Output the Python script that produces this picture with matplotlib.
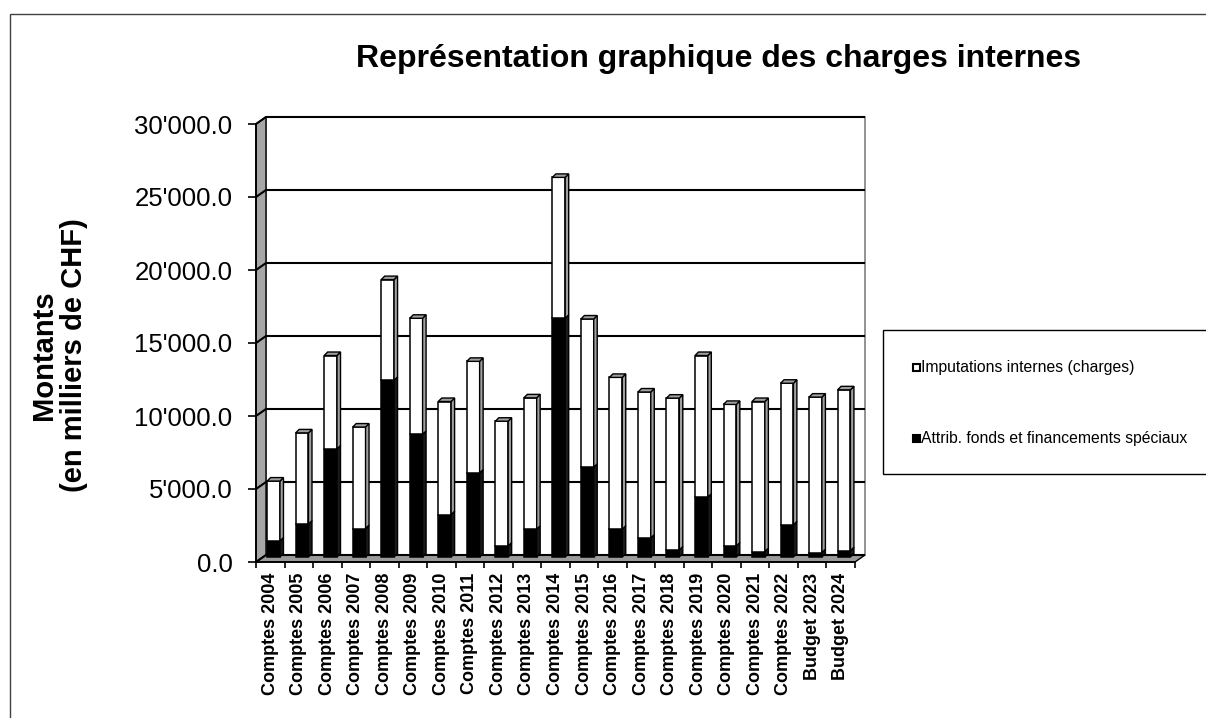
import matplotlib
matplotlib.use("Agg")
import matplotlib.pyplot as plt
import matplotlib.patches as mpatches
from matplotlib.ticker import FuncFormatter
import numpy as np

plt.rcParams['font.family'] = ['Liberation Sans', 'DejaVu Sans']

# valeurs (en milliers de CHF)
categories = ['Comptes 2004', 'Comptes 2005', 'Comptes 2006', 'Comptes 2007', 'Comptes 2008',
              'Comptes 2009', 'Comptes 2010', 'Comptes 2011', 'Comptes 2012', 'Comptes 2013',
              'Comptes 2014', 'Comptes 2015', 'Comptes 2016', 'Comptes 2017', 'Comptes 2018',
              'Comptes 2019', 'Comptes 2020', 'Comptes 2021', 'Comptes 2022', 'Budget 2023',
              'Budget 2024']
attrib = [1100, 2250, 7400, 1950, 12100, 8400, 2900, 5750, 750, 1900,
          16350, 6150, 1900, 1300, 480, 4100, 750, 370, 2200, 300, 430]
imputations = [4100, 6250, 6400, 6950, 6900, 7950, 7750, 7650, 8550, 9000,
               9650, 10150, 10400, 10000, 10400, 9700, 9700, 10280, 9700, 10650, 11020]
yticks = [0, 5000, 10000, 15000, 20000, 25000, 30000]
serie_noms = ['Imputations internes (charges)', 'Attrib. fonds et financements spéciaux']

W, H = 1206, 718
fig = plt.figure(figsize=(W / 100, H / 100), dpi=100)

# cadre exterieur
fig.patches.append(mpatches.Rectangle((10 / W, -0.05), 1.1, 1 - 14 / H + 0.05, transform=fig.transFigure,
                                      fill=False, edgecolor='#404040', lw=1))

ax = fig.add_axes([256 / W, 1 - 562 / H, 599 / W, 438 / H])
n = len(categories)
ymax = 30000
ax.set_xlim(0, n)
ax.set_ylim(0, ymax)

# pixels -> unites de donnees
def ux(px):
    return px * n / 599.0

def uy(px):
    return px * ymax / 438.0

wdx, wdy = ux(10), uy(7)     # profondeur des parois
bdx, bdy = ux(3.5), uy(3.5)  # profondeur des barres
lift = uy(5)

# paroi du fond
ax.add_patch(mpatches.Rectangle((wdx, wdy), n, ymax, facecolor='white', edgecolor='#808080',
                                lw=1.2, zorder=0, clip_on=False))
# paroi gauche
ax.add_patch(mpatches.Polygon([(0, 0), (0, ymax), (wdx, ymax + wdy), (wdx, wdy)], closed=True,
                              facecolor='#a6a6a6', edgecolor='black', lw=1, zorder=1, clip_on=False))
# sol
ax.add_patch(mpatches.Polygon([(0, 0), (n, 0), (n + wdx, wdy), (wdx, wdy)], closed=True,
                              facecolor='#9a9a9a', edgecolor='black', lw=1, zorder=1, clip_on=False))
# quadrillage
for v in yticks:
    ax.plot([0, wdx, n + wdx], [v, v + wdy, v + wdy], color='black', lw=1.5, zorder=1,
            clip_on=False, solid_capstyle='butt')

x = np.arange(n)
left = x + 0.39
bw = 0.45
tot = np.array(attrib) + np.array(imputations)

ax.bar(left, attrib, bw, bottom=lift, align='edge', color='black', edgecolor='black', lw=1.1, zorder=3)
ax.bar(left, imputations, bw, bottom=lift + np.array(attrib), align='edge', color='white',
       edgecolor='black', lw=1.1, zorder=3)

for i in range(n):
    x1 = left[i] + bw
    b = lift
    m = lift + attrib[i]
    t = lift + tot[i]
    ax.add_patch(mpatches.Polygon([(x1, b), (x1, m), (x1 + bdx, m + bdy), (x1 + bdx, b + bdy)],
                                  closed=True, facecolor='#1a1a1a', edgecolor='black', lw=1,
                                  zorder=3, clip_on=False))
    ax.add_patch(mpatches.Polygon([(x1, m), (x1, t), (x1 + bdx, t + bdy), (x1 + bdx, m + bdy)],
                                  closed=True, facecolor='#a0a0a0', edgecolor='black', lw=1,
                                  zorder=3, clip_on=False))
    ax.add_patch(mpatches.Polygon([(left[i], t), (x1, t), (x1 + bdx, t + bdy), (left[i] + bdx, t + bdy)],
                                  closed=True, facecolor='#a0a0a0', edgecolor='black', lw=1,
                                  zorder=3, clip_on=False))

for s in ['top', 'right']:
    ax.spines[s].set_visible(False)
ax.spines['left'].set_linewidth(1.3)
ax.spines['bottom'].set_linewidth(1.3)
ax.spines['left'].set_zorder(4)
ax.spines['bottom'].set_zorder(4)

ax.set_yticks(yticks)
ax.yaxis.set_major_formatter(FuncFormatter(lambda v, p: f"{v:,.1f}".replace(",", "'")))
ax.tick_params(axis='y', direction='out', length=6, width=1.2, pad=11, labelsize=18.5)

ax.set_xticks(np.arange(n + 1))
ax.set_xticklabels([])
ax.set_xticks(x + 0.5, minor=True)
ax.set_xticklabels(categories, minor=True, rotation=90, fontweight='bold', fontsize=13)
ax.tick_params(axis='x', which='major', direction='out', length=4, width=1.2)
ax.tick_params(axis='x', which='minor', length=0, pad=8)

fig.text(719 / W, 1 - 59 / H, 'Représentation graphique des charges internes', ha='center',
         va='center', fontsize=23, fontweight='bold')
fig.text(59 / W, 1 - 355 / H, 'Montants\n(en milliers de CHF)', ha='center', va='center',
         rotation=90, fontsize=21, fontweight='bold', multialignment='center', linespacing=1.1)

# legende
fig.patches.append(mpatches.Rectangle((883 / W, 1 - 474 / H), 0.3, 144 / H, transform=fig.transFigure,
                                      facecolor='white', edgecolor='black', lw=1))
for nom, col, yy in zip(serie_noms, ['white', 'black'], [367, 438]):
    fig.patches.append(mpatches.Rectangle((913 / W, 1 - (yy + 4) / H), 7 / W, 7 / H,
                                          transform=fig.transFigure, facecolor=col,
                                          edgecolor='black', lw=1.5))
    fig.text(921 / W, 1 - yy / H, nom, ha='left', va='center', fontsize=11.3)

fig.savefig('out.png', dpi=100)
